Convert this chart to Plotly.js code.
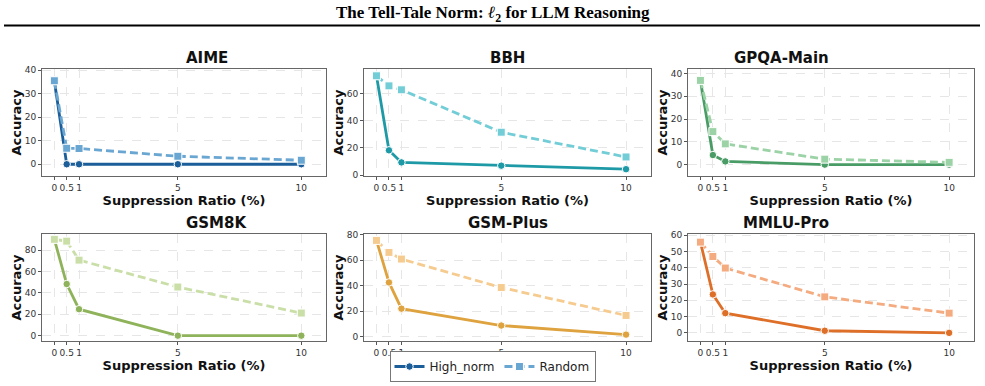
<!DOCTYPE html>
<html>
<head>
<meta charset="utf-8">
<script src="https://cdn.plot.ly/plotly-3.0.1.min.js"></script>
<style>
  html, body { margin: 0; padding: 0; background: #fff; }
  #chart { width: 985px; height: 386px; }
</style>
</head>
<body>
<div id="chart"></div>
<script>
// ---- data ----
const ratios = [0, 0.5, 1, 5, 10];
const ratioLabels = ["0", "0.5", "1", "5", "10"];
const datasets = ["AIME", "BBH", "GPQA-Main", "GSM8K", "GSM-Plus", "MMLU-Pro"];
const seriesNames = ["High_norm", "Random"];

const aimeHigh = [35.5, 0, 0, 0, 0];
const aimeRandom = [35.5, 6.8, 6.7, 3.4, 1.7];
const bbhHigh = [73.0, 18.2, 9.3, 6.9, 4.3];
const bbhRandom = [73.0, 65.6, 62.7, 31.5, 13.3];
const gpqaHigh = [37.0, 4.2, 1.4, 0, 0];
const gpqaRandom = [37.0, 14.5, 9.1, 2.4, 1.0];
const gsm8kHigh = [90.3, 48.4, 24.8, 0, 0];
const gsm8kRandom = [90.3, 88.6, 70.8, 45.6, 21.2];
const gsmPlusHigh = [75.5, 42.6, 22.1, 8.9, 1.8];
const gsmPlusRandom = [75.5, 66.1, 60.9, 38.6, 16.8];
const mmluHigh = [55.7, 23.6, 12.1, 1.3, 0];
const mmluRandom = [55.7, 46.9, 39.8, 22.1, 12.1];

const highSeries = [aimeHigh, bbhHigh, gpqaHigh, gsm8kHigh, gsmPlusHigh, mmluHigh];
const randomSeries = [aimeRandom, bbhRandom, gpqaRandom, gsm8kRandom, gsmPlusRandom, mmluRandom];
const yTickStep = [10, 20, 10, 20, 20, 10];

// ---- styling ----
const highColors = ["#1b5e99", "#1e9aa7", "#4a9c66", "#8fb35a", "#dea23e", "#de6f28"];
const randomColors = ["#6aa6d2", "#72cdd7", "#9bd2a6", "#cadfa8", "#f6cb90", "#f4ab80"];

const xDomains = [[42/985, 326/985], [364/985, 651/985], [688/985, 974/985]];
const yDomains = [[1 - 176/386, 1 - 69/386], [1 - 341/386, 1 - 234/386]];

const traces = [];
const layout = {
  width: 985, height: 386,
  margin: {l: 0, r: 0, t: 0, b: 0},
  paper_bgcolor: "#ffffff",
  plot_bgcolor: "#ffffff",
  font: {family: "DejaVu Sans", color: "#222"},
  showlegend: true,
  legend: {
    orientation: "h",
    x: 0.5, xanchor: "center",
    y: 1 - 366.5/386, yanchor: "middle",
    bgcolor: "#ffffff",
    bordercolor: "#777",
    borderwidth: 1,
    font: {family: "DejaVu Sans", size: 12, color: "#222"},
    itemwidth: 30,
    tracegroupgap: 0
  },
  annotations: [],
  shapes: []
};

datasets.forEach((name, i) => {
  const row = Math.floor(i / 3), col = i % 3;
  const ax = i === 0 ? "" : String(i + 1);
  const xa = "x" + ax, ya = "y" + ax;
  const hi = highSeries[i], rd = randomSeries[i];
  const all = hi.concat(rd);
  const ymin = Math.min(...all) - 5, ymax = Math.max(...all) + 5;

  traces.push({
    x: ratios, y: hi, type: "scatter", mode: "lines+markers",
    name: seriesNames[0], legendgroup: "high", showlegend: i === 0,
    xaxis: xa, yaxis: ya,
    line: {color: highColors[i], width: 2.8},
    marker: {symbol: "circle", size: 7.5, color: highColors[i], line: {color: "#ffffff", width: 1}}
  });
  traces.push({
    x: ratios, y: rd, type: "scatter", mode: "lines+markers",
    name: seriesNames[1], legendgroup: "random", showlegend: i === 0,
    xaxis: xa, yaxis: ya,
    line: {color: randomColors[i], width: 2.8, dash: "8px,4px"},
    marker: {symbol: "square", size: 8, color: randomColors[i], line: {color: "#ffffff", width: 1}}
  });

  layout["xaxis" + ax] = {
    domain: xDomains[col], anchor: ya,
    range: [-0.5, 11],
    tickmode: "array", tickvals: ratios, ticktext: ratioLabels,
    ticks: "outside", ticklen: 3, tickcolor: "#555", tickwidth: 1,
    tickfont: {family: "DejaVu Sans", size: 9, color: "#333"},
    showgrid: true, gridcolor: "#e6e6e6", griddash: "dash", gridwidth: 1,
    showline: true, mirror: true, linecolor: "#666", linewidth: 1,
    zeroline: false, automargin: false,
    title: {text: "Suppression Ratio (%)", font: {family: "DejaVu Sans", size: 13, color: "#111", weight: "bold"}, standoff: 0}
  };
  layout["yaxis" + ax] = {
    domain: yDomains[row], anchor: xa,
    range: [ymin, ymax],
    dtick: yTickStep[i], tick0: 0,
    ticks: "outside", ticklen: 3, tickcolor: "#555", tickwidth: 1,
    tickfont: {family: "DejaVu Sans", size: 9, color: "#333"},
    showgrid: true, gridcolor: "#e6e6e6", griddash: "dash", gridwidth: 1,
    showline: true, mirror: true, linecolor: "#666", linewidth: 1,
    zeroline: false, automargin: false,
    title: {text: "Accuracy", font: {family: "DejaVu Sans", size: 13, color: "#111", weight: "bold"}, standoff: 0}
  };

  layout.annotations.push({
    text: "<b>" + name + "</b>",
    xref: "paper", yref: "paper",
    x: (xDomains[col][0] + xDomains[col][1]) / 2,
    y: yDomains[row][1], yanchor: "bottom", yshift: 0,
    showarrow: false,
    font: {family: "DejaVu Sans", size: 15, color: "#111"}
  });
});

// Figure header
layout.annotations.push({
  text: "<b>The Tell-Tale Norm: <i>ℓ</i><sub>2</sub> for LLM Reasoning</b>",
  xref: "paper", yref: "paper", x: 0.5, y: 1 - 14/386,
  xanchor: "center", yanchor: "middle", showarrow: false,
  font: {family: "Liberation Serif", size: 17, color: "#000"}
});
layout.shapes.push({
  type: "line", xref: "paper", yref: "paper",
  x0: 4/985, x1: 980/985, y0: 1 - 25.5/386, y1: 1 - 25.5/386,
  line: {color: "#000", width: 2}
});

Plotly.newPlot("chart", traces, layout, {displayModeBar: false, staticPlot: true}).then(() => {
  // keep the legend box on top of the axis title it covers, as in the reference
  const leg = document.querySelector("#chart .legend");
  if (leg && leg.parentNode) leg.parentNode.appendChild(leg);
});
</script>
</body>
</html>
